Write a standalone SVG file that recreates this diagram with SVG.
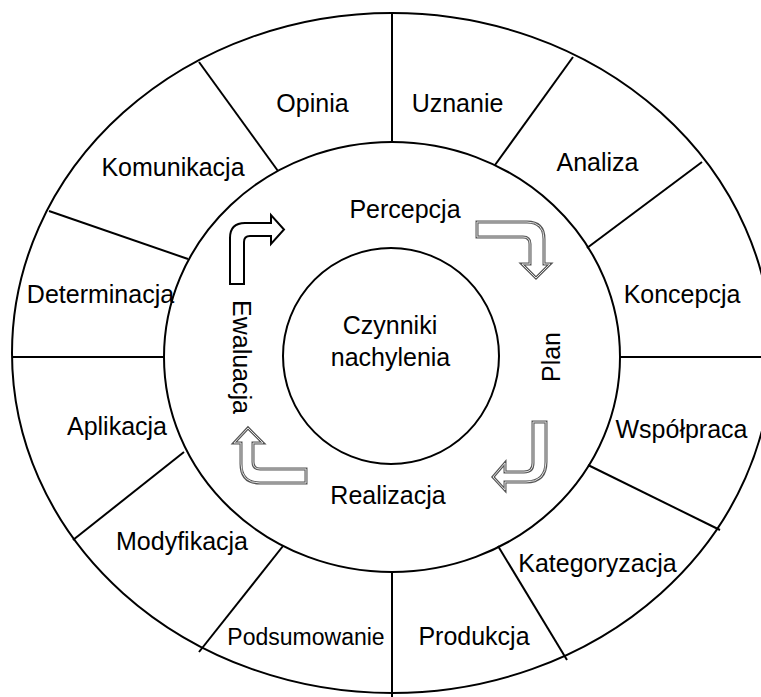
<svg xmlns="http://www.w3.org/2000/svg" width="761" height="697" viewBox="0 0 761 697">
<style>
.ring{fill:#fff;stroke:#000;stroke-width:2}
.div{stroke:#000;stroke-width:2;fill:none}
.t{font-family:"Liberation Sans",Arial,sans-serif;font-size:25px;fill:#000;text-anchor:middle}
.a1{fill:#fff;stroke:#000;stroke-width:2;stroke-linejoin:miter}
.a2o{fill:#fff;stroke:#555;stroke-width:3}
.a2i{fill:none;stroke:#e0e0e0;stroke-width:1}
</style>
<rect width="761" height="697" fill="#fff"/>
<g id="outer-ring"><ellipse class="ring" cx="392" cy="353" rx="380" ry="340"/></g>
<g id="middle-ring"><ellipse class="ring" cx="392" cy="357" rx="228" ry="215"/></g>
<g id="inner-circle"><circle class="ring" cx="391" cy="356" r="108"/></g>
<g id="connectors">
<line class="div" x1="392" y1="13" x2="392" y2="143"/>
<line class="div" x1="573" y1="57" x2="495" y2="165"/>
<line class="div" x1="702" y1="162" x2="587" y2="248"/>
<line class="div" x1="619" y1="357" x2="761" y2="357"/>
<line class="div" x1="588" y1="465" x2="720" y2="530"/>
<line class="div" x1="498" y1="546" x2="567" y2="660"/>
<line class="div" x1="392" y1="572" x2="392" y2="697"/>
<line class="div" x1="283" y1="546" x2="199" y2="652"/>
<line class="div" x1="184" y1="452" x2="73" y2="540"/>
<line class="div" x1="12" y1="357" x2="164" y2="357"/>
<line class="div" x1="49" y1="211" x2="188" y2="259"/>
<line class="div" x1="199" y1="62" x2="278" y2="171"/>
<path id="arrow-ewaluacja-percepcja" class="a1" d="M230,284 L230,238 Q230,223 245,223 L271,223 L271,215 L284,229.5 L271,244 L271,236 L250,236 Q244,236 244,242 L244,284 Z"/>
<g id="arrow-percepcja-plan">
<path class="a2o" d="M477,222 L527,222 Q544,222 544,239 L544,264 L550,264 L536,278 L522,264 L530,264 L530,244 Q530,237 523,237 L477,237 Z"/>
<path class="a2i" d="M477,222 L527,222 Q544,222 544,239 L544,264 L550,264 L536,278 L522,264 L530,264 L530,244 Q530,237 523,237 L477,237 Z"/>
</g>
<g id="arrow-plan-realizacja">
<path class="a2o" d="M533,422 L546,422 L546,462 Q546,482 526,482 L505,482 L505,490 L493,477 L505,463 L505,472 L524,472 Q533,472 533,463 Z"/>
<path class="a2i" d="M533,422 L546,422 L546,462 Q546,482 526,482 L505,482 L505,490 L493,477 L505,463 L505,472 L524,472 Q533,472 533,463 Z"/>
</g>
<g id="arrow-realizacja-ewaluacja">
<path class="a2o" d="M306,469 L306,483 L260,483 Q241,483 241,464 L241,443 L234,443 L248,428 L263,443 L253,443 L253,462 Q253,469 260,469 Z"/>
<path class="a2i" d="M306,469 L306,483 L260,483 Q241,483 241,464 L241,443 L234,443 L248,428 L263,443 L253,443 L253,462 Q253,469 260,469 Z"/>
</g>
</g>
<g id="n-opinia"><text class="t" x="312.5" y="112">Opinia</text></g>
<g id="n-uznanie"><text class="t" x="457.5" y="112">Uznanie</text></g>
<g id="n-analiza"><text class="t" x="597.5" y="171">Analiza</text></g>
<g id="n-koncepcja"><text class="t" x="682" y="303">Koncepcja</text></g>
<g id="n-wspolpraca"><text class="t" x="681.5" y="438">Współpraca</text></g>
<g id="n-kategoryzacja"><text class="t" x="597.5" y="572">Kategoryzacja</text></g>
<g id="n-produkcja"><text class="t" x="474" y="645">Produkcja</text></g>
<g id="n-podsumowanie"><text class="t" x="306" y="645" style="font-size:23px">Podsumowanie</text></g>
<g id="n-modyfikacja"><text class="t" x="182" y="550">Modyfikacja</text></g>
<g id="n-aplikacja"><text class="t" x="117" y="435">Aplikacja</text></g>
<g id="n-determinacja"><text class="t" x="100.5" y="303">Determinacja</text></g>
<g id="n-komunikacja"><text class="t" x="173" y="176">Komunikacja</text></g>
<g id="n-percepcja"><text class="t" x="405" y="218">Percepcja</text></g>
<g id="n-plan"><text class="t" transform="translate(560,357) rotate(-90)" x="0" y="0">Plan</text></g>
<g id="n-realizacja"><text class="t" x="388" y="504">Realizacja</text></g>
<g id="n-ewaluacja"><text class="t" transform="translate(233,357) rotate(90)" x="0" y="0">Ewaluacja</text></g>
<g id="n-czynniki"><text class="t" x="390" y="334">Czynniki</text><text class="t" x="390.5" y="366">nachylenia</text></g>
</svg>
